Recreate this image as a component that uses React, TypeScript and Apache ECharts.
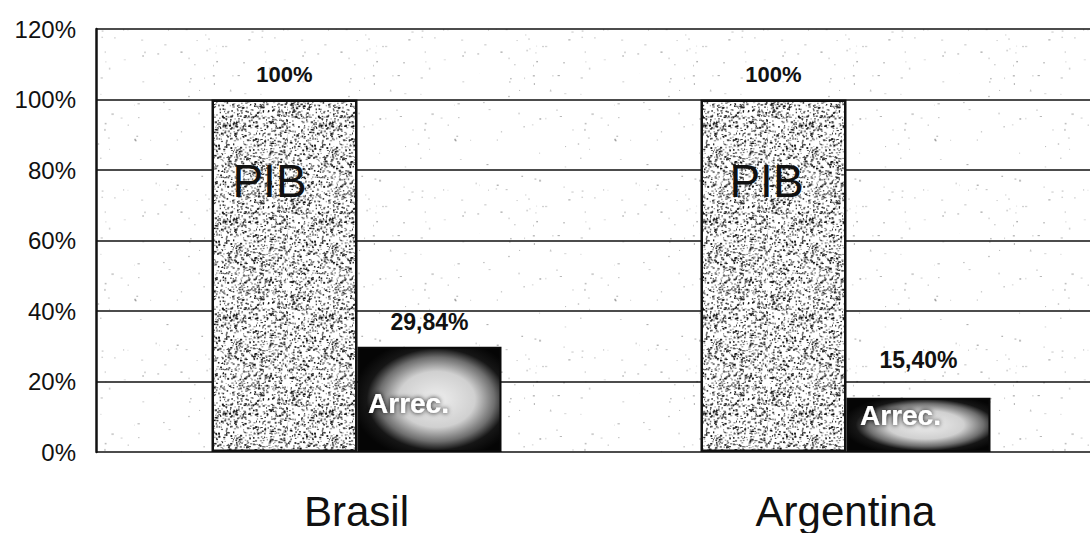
import React, { useEffect, useRef } from "react";
import * as echarts from "echarts";

const categories = ["Brasil", "Argentina"];
const pibValues = [100, 100];
const arrecValues = [29.84, 15.4];
const pibLabels = ["100%", "100%"];
const arrecLabels = ["29,84%", "15,40%"];
const seriesNames = ["PIB", "Arrec."];
const yTicks = [0, 20, 40, 60, 80, 100, 120];

// label layout (px) per category: [value-line height, inner-line height, inner shift]
const pibLayout = [
  { above: 51, inner: 162, shift: -15 },
  { above: 51, inner: 162, shift: -7 },
];
const arrecLayout = [
  { above: 49, inner: 114, shift: -21 },
  { above: 75, inner: 36, shift: -18 },
];

const FONT = "'Liberation Sans', Arial, Helvetica, sans-serif";

function speckle(size: number, count: number, alpha: number, seed: number) {
  const c = document.createElement("canvas");
  c.width = size;
  c.height = size;
  const ctx = c.getContext("2d")!;
  ctx.fillStyle = "#ffffff";
  ctx.fillRect(0, 0, size, size);
  let s = seed;
  const rnd = () => {
    s = (s * 1103515245 + 12345) % 2147483648;
    return s / 2147483648;
  };
  for (let i = 0; i < count; i++) {
    const x = rnd() * size;
    const y = rnd() * size;
    const w = 0.8 + rnd() * 1.6;
    const h = 0.8 + rnd() * 1.2;
    ctx.fillStyle = `rgba(0,0,0,${alpha * (0.35 + rnd() * 0.65)})`;
    ctx.fillRect(x, y, w, h);
  }
  return { image: c.toDataURL(), repeat: "repeat", imageWidth: size, imageHeight: size };
}

export default function App() {
  const ref = useRef<HTMLDivElement>(null);
  useEffect(() => {
    if (!ref.current) return;
    const chart = echarts.init(ref.current, null, { renderer: "svg" });
    const pibPattern = speckle(96, 1400, 0.9, 7);
    const bgPattern = speckle(160, 90, 0.35, 13);

    const arrecFill = {
      type: "radial",
      x: 0.55,
      y: 0.5,
      r: 0.6,
      colorStops: [
        { offset: 0, color: "#eeeeee" },
        { offset: 0.45, color: "#d0d0d0" },
        { offset: 0.68, color: "#6e6e6e" },
        { offset: 0.82, color: "#161616" },
        { offset: 1, color: "#050505" },
      ],
    };

    const pibData = pibValues.map((v, i) => ({
      value: v,
      label: {
        show: true,
        position: "top",
        distance: 0,
        offset: [0, pibLayout[i].inner],
        formatter: `{v|${pibLabels[i]}}\n{n|${seriesNames[0]}}`,
        rich: {
          v: { fontFamily: FONT, fontSize: 22, fontWeight: "bold", color: "#111", lineHeight: pibLayout[i].above },
          n: {
            fontFamily: FONT,
            fontSize: 46,
            color: "#111",
            lineHeight: pibLayout[i].inner,
            padding: [0, -2 * pibLayout[i].shift, 0, 0],
          },
        },
      },
    }));

    const arrecData = arrecValues.map((v, i) => ({
      value: v,
      label: {
        show: true,
        position: "top",
        distance: 0,
        offset: [0, arrecLayout[i].inner],
        formatter: `{v|${arrecLabels[i]}}\n{n|${seriesNames[1]}}`,
        rich: {
          v: { fontFamily: FONT, fontSize: 23, fontWeight: "bold", color: "#111", lineHeight: arrecLayout[i].above },
          n: {
            fontFamily: FONT,
            fontSize: 28,
            fontWeight: "bold",
            color: "#ffffff",
            textShadowColor: "#000",
            textShadowBlur: 5,
            lineHeight: arrecLayout[i].inner,
            padding: [0, -2 * arrecLayout[i].shift, 0, 0],
          },
        },
      },
    }));

    chart.setOption({
      animation: false,
      backgroundColor: "#ffffff",
      grid: [
        { left: 96, right: 0, top: 29, bottom: 81, show: true, borderWidth: 0, backgroundColor: bgPattern },
        { left: 112, right: -4, top: 29, bottom: 81 },
      ],
      xAxis: [
        { type: "value", gridIndex: 0, min: 0, max: 1, show: false },
        {
          type: "category",
          gridIndex: 1,
          data: categories,
          axisLine: { show: false },
          axisTick: { show: false },
          axisLabel: { fontFamily: FONT, fontSize: 42, color: "#111", margin: 38 },
        },
      ],
      yAxis: [
        {
          type: "value",
          gridIndex: 0,
          min: yTicks[0],
          max: yTicks[yTicks.length - 1],
          interval: yTicks[1] - yTicks[0],
          axisLine: { show: true, lineStyle: { color: "#111", width: 2.5 } },
          axisTick: { show: false },
          splitLine: { show: true, lineStyle: { color: "#111", width: 1.6 } },
          axisLabel: { fontFamily: FONT, fontSize: 24, color: "#111", margin: 20, formatter: "{value}%" },
        },
        { type: "value", gridIndex: 1, min: 0, max: 120, show: false },
      ],
      series: [
        {
          name: seriesNames[0],
          type: "bar",
          xAxisIndex: 1,
          yAxisIndex: 1,
          barWidth: 146,
          barGap: "0%",
          data: pibData,
          itemStyle: { color: pibPattern, borderColor: "#111", borderWidth: 2.5 },
          emphasis: { disabled: true },
        },
        {
          name: seriesNames[1],
          type: "bar",
          xAxisIndex: 1,
          yAxisIndex: 1,
          barWidth: 144,
          barGap: "0%",
          data: arrecData,
          itemStyle: { color: arrecFill, borderColor: "#0a0a0a", borderWidth: 2 },
          emphasis: { disabled: true },
        },
      ],
    } as any);
    return () => chart.dispose();
  }, []);
  return (
    <div
      ref={ref}
      style={{ position: "absolute", left: 0, top: 0, width: 1090, height: 533, background: "#fff" }}
    />
  );
}
